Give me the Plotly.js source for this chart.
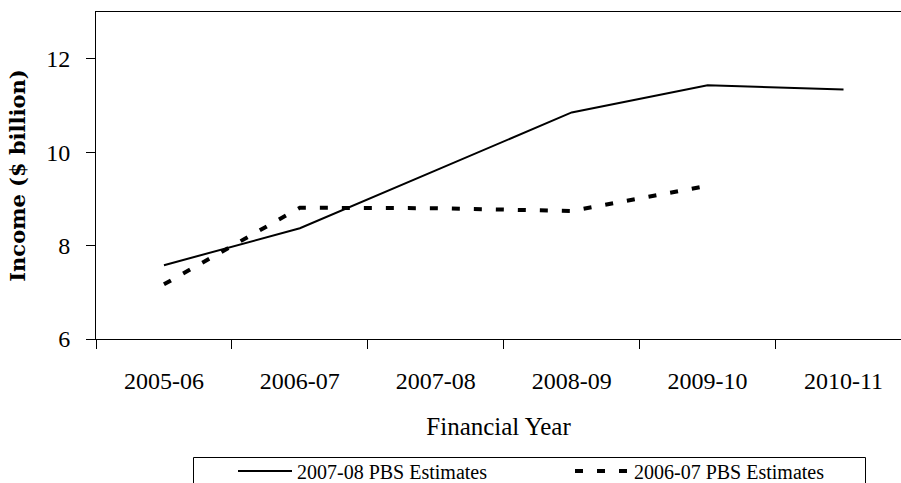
<!DOCTYPE html>
<html>
<head>
<meta charset="utf-8">
<script src="https://cdn.plot.ly/plotly-3.0.1.min.js"></script>
<style>html,body{margin:0;padding:0;background:#fff;}#chart{width:901px;height:483px;}</style>
</head>
<body>
<div id="chart"></div>
<script>
const categories = ['2005-06', '2006-07', '2007-08', '2008-09', '2009-10', '2010-11'];
const est200708 = [7.58, 8.37, 9.61, 10.85, 11.43, 11.34];
const est200607 = [7.17, 8.81, 8.80, 8.74, 9.28];
const seriesNames = ['2007-08 PBS Estimates', '2006-07 PBS Estimates'];
const yTicks = [6, 8, 10, 12];

const serif = 'Liberation Serif, Times New Roman, serif';

const traces = [
  {
    x: categories, y: est200708, name: seriesNames[0], type: 'scatter', mode: 'lines',
    line: {color: '#000', width: 2}
  },
  {
    x: categories.slice(0, est200607.length), y: est200607, name: seriesNames[1], type: 'scatter', mode: 'lines',
    line: {color: '#000', width: 4, dash: '8px,14px'}
  }
];

// plot area: left 96px, top 12px, height 327px, width 805px
const px2x = p => (p - 96) / 805;
const px2y = p => (339 - p) / 327;

const layout = {
  width: 901, height: 483,
  margin: {l: 96, r: 0, t: 12, b: 144, autoexpand: false},
  paper_bgcolor: '#fff', plot_bgcolor: '#fff',
  showlegend: true,
  font: {family: serif, color: '#000'},
  xaxis: {
    type: 'category', range: [-0.5, 5.423], automargin: false,
    showline: true, linecolor: '#000', linewidth: 1, mirror: true,
    ticks: 'outside', ticklen: 9, tickwidth: 1, tickcolor: '#000', tickson: 'boundaries',
    tickfont: {family: serif, size: 24, color: '#000'}, ticklabelstandoff: 20,
    showgrid: false, zeroline: false, fixedrange: true,
    title: {text: 'Financial Year', font: {family: serif, size: 25, color: '#000'}, standoff: 24}
  },
  yaxis: {
    range: [6, 13], tickvals: yTicks, automargin: false,
    showline: true, linecolor: '#000', linewidth: 1,
    ticks: 'outside', ticklen: 9, tickwidth: 1, tickcolor: '#000',
    tickfont: {family: serif, size: 24, color: '#000'}, ticklabelstandoff: 11,
    showgrid: false, zeroline: false, fixedrange: true,
    title: {text: 'Income ($ billion)', font: {family: 'DejaVu Serif, serif', size: 21, color: '#000', weight: 'bold'}, standoff: 14}
  },
  legend: {
    orientation: 'h', x: px2x(233), xanchor: 'left', y: px2y(471), yanchor: 'middle',
    borderwidth: 0, bgcolor: 'rgba(0,0,0,0)',
    font: {family: serif, size: 20, color: '#000'},
    entrywidth: 268, entrywidthmode: 'pixels', itemwidth: 54, traceorder: 'normal'
  },
  shapes: [{
    type: 'rect', xref: 'paper', yref: 'paper', layer: 'below',
    x0: px2x(193.5), x1: px2x(865.5), y0: px2y(457.5), y1: px2y(495),
    line: {color: '#000', width: 1}, fillcolor: 'rgba(0,0,0,0)'
  }]
};

Plotly.newPlot('chart', traces, layout, {staticPlot: true, displayModeBar: false});
</script>
</body>
</html>
